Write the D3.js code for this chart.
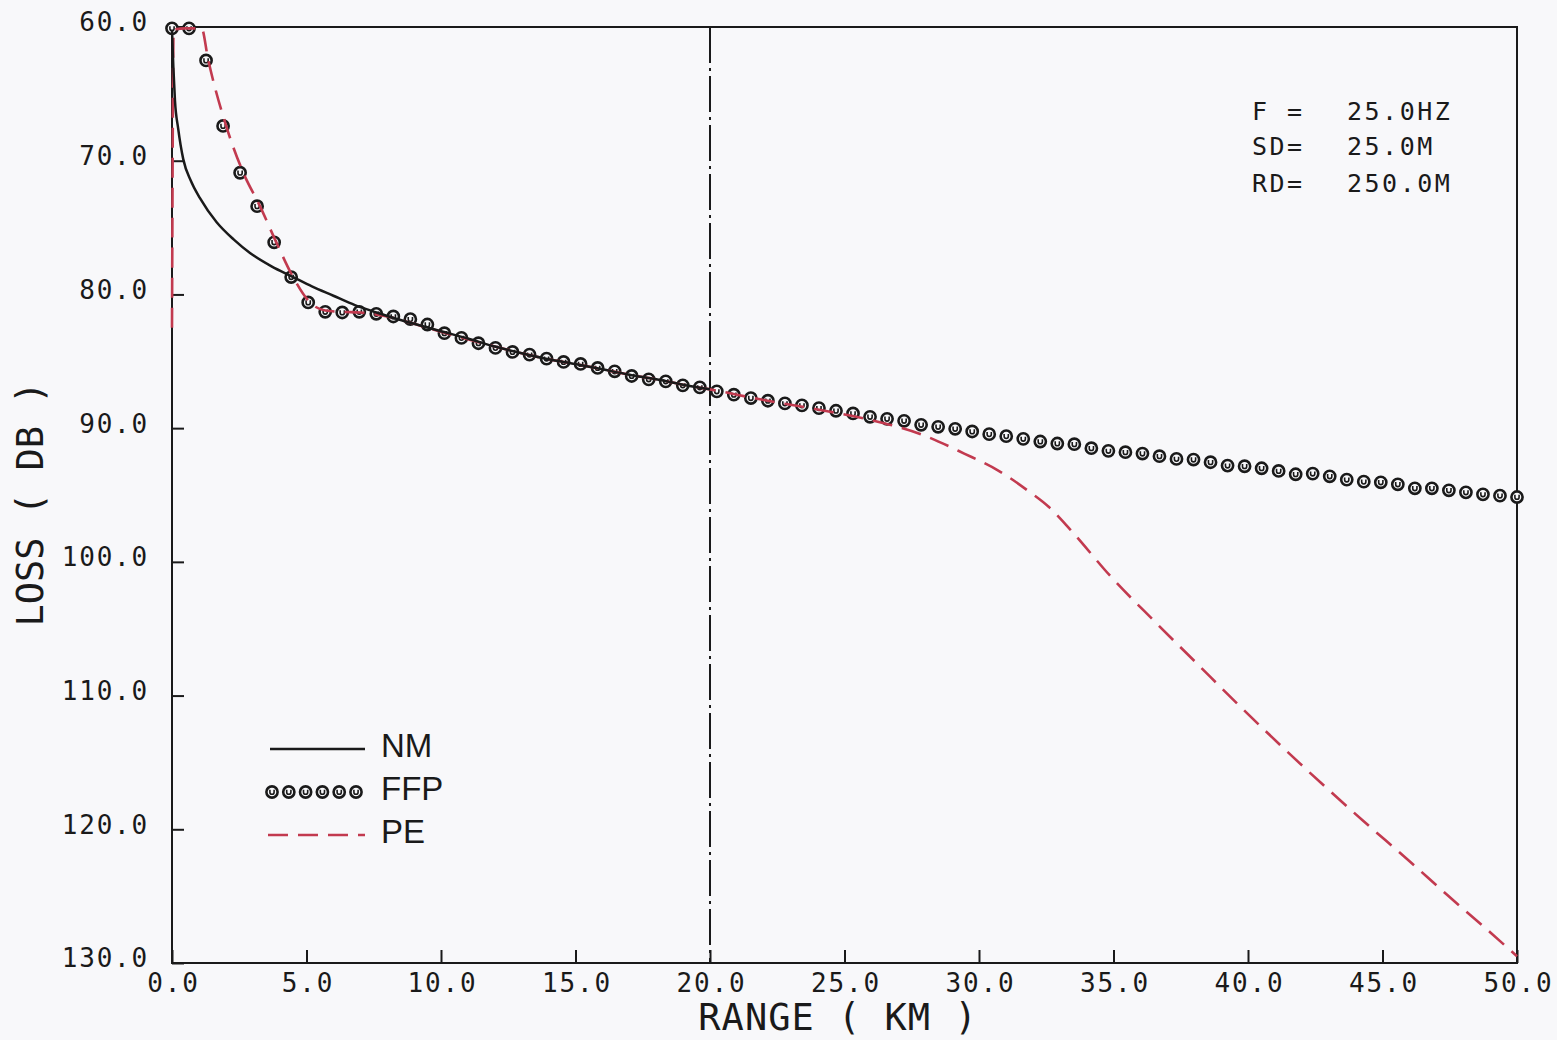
<!DOCTYPE html>
<html>
<head>
<meta charset="utf-8">
<script src="https://cdn.jsdelivr.net/npm/d3@7"></script>
<style>
  html, body { margin: 0; padding: 0; background: #f8f8fa; }
  svg { display: block; }
</style>
</head>
<body>
<svg id="chart" width="1557" height="1040"></svg>
<script>
// ---- data ----
const xTicks = [0, 5, 10, 15, 20, 25, 30, 35, 40, 45, 50];
const yTicks = [60, 70, 80, 90, 100, 110, 120, 130];

// NM (normal modes), 0..20 km
const nmRange = [0, 0.05, 0.11, 0.23, 0.42, 0.7, 1.04, 1.66, 2.3, 2.9, 3.7, 4.5, 5.2, 6.0, 6.8, 7.6, 8.3, 9.1, 10, 11, 12, 13, 14, 15, 16, 17, 18, 19, 20];
const nmLoss  = [60.2, 63.0, 65.5, 67.6, 69.9, 71.5, 72.8, 74.6, 75.9, 76.9, 77.9, 78.7, 79.4, 80.1, 80.8, 81.35, 81.8, 82.25, 82.75, 83.3, 83.9, 84.4, 84.85, 85.2, 85.6, 86.0, 86.35, 86.75, 87.1];

// FFP, 80 samples from 0 to 50 km (step 50/79 km)
const ffpLoss = [60.1, 60.1, 62.5, 67.4, 70.9, 73.4, 76.1, 78.7, 80.6, 81.3,
  81.35, 81.3, 81.45, 81.65, 81.85, 82.25, 82.9, 83.25, 83.65, 84.0,
  84.3, 84.5, 84.8, 85.05, 85.2, 85.5, 85.75, 86.1, 86.35, 86.5,
  86.8, 86.95, 87.25, 87.5, 87.75, 87.95, 88.15, 88.3, 88.5, 88.7,
  88.9, 89.15, 89.3, 89.45, 89.75, 89.9, 90.05, 90.25, 90.45, 90.6,
  90.8, 91.0, 91.15, 91.2, 91.5, 91.7, 91.8, 91.9, 92.1, 92.3,
  92.35, 92.55, 92.8, 92.85, 93.0, 93.2, 93.45, 93.4, 93.6, 93.85,
  94.0, 94.05, 94.2, 94.5, 94.5, 94.65, 94.8, 94.95, 95.05, 95.15];
const ffpRange = ffpLoss.map((_, i) => i * 50 / 79);

// PE
const peRange = [0, 0.06, 0.5, 1.1, 1.34, 2.03, 2.65, 3.27, 3.9, 4.5, 5.13, 5.7, 6.3, 7.0, 8.0, 9.0, 10.0, 11.0, 12.0, 13.0, 14.0, 15.0, 16.0, 17.0, 18.0, 19.0, 20.0, 22.0, 24.0, 26.0, 27.9, 29.45, 30.7, 31.8, 32.6, 33.4, 34.9, 36.5, 38.1, 39.6, 41.2, 42.75, 44.3, 45.9, 47.4, 49.0, 50.0];
const peLoss  = [82.5, 60.2, 60.1, 60.1, 62.4, 67.5, 70.9, 73.4, 76.2, 78.7, 80.6, 81.2, 81.3, 81.35, 81.65, 82.2, 82.8, 83.35, 83.9, 84.4, 84.85, 85.2, 85.6, 86.0, 86.35, 86.75, 87.1, 87.9, 88.6, 89.4, 90.5, 91.9, 93.15, 94.65, 95.9, 97.6, 101.1, 104.4, 107.6, 110.6, 113.7, 116.6, 119.4, 122.2, 124.9, 127.7, 129.5];

const markerRange = 20; // vertical dash-dot line position (km)
const infoLabels = ["F =", "SD=", "RD="];
const infoValues = ["25.0HZ", "25.0M", "250.0M"];
const legendNames = ["NM", "FFP", "PE"];

// ---- layout ----
const L = 172, R = 1517, T = 27, B = 963;
const PE_COLOR = "#c23a4f";
const INK = "#1a1a1a";
const MONO = "'DejaVu Sans Mono', monospace";

const svg = d3.select("#chart");
const x = d3.scaleLinear().domain([0, 50]).range([L, R]);
const y = d3.scaleLinear().domain([60, 130]).range([T, B]);

svg.append("rect").attr("width", 1557).attr("height", 1040).attr("fill", "#f8f8fa");

// axes
const yAxis = d3.axisLeft(y).tickValues(yTicks).tickFormat(d3.format(".1f"))
  .tickSizeInner(-12).tickSizeOuter(0).tickPadding(23);
const gy = svg.append("g").attr("transform", `translate(${L},0)`).call(yAxis);
gy.select(".domain").remove();
gy.selectAll("line").attr("stroke", INK).attr("stroke-width", 2);
gy.selectAll("text").attr("font-family", MONO).attr("font-size", 26)
  .attr("letter-spacing", "1.8px").attr("fill", INK).attr("dy", "0.15em");

const xAxis = d3.axisBottom(x).tickValues(xTicks).tickFormat(d3.format(".1f"))
  .tickSizeInner(-13).tickSizeOuter(0).tickPadding(11);
const gx = svg.append("g").attr("transform", `translate(0,${B})`).call(xAxis);
gx.select(".domain").remove();
gx.selectAll("line").attr("stroke", INK).attr("stroke-width", 2);
gx.selectAll("text").attr("font-family", MONO).attr("font-size", 26)
  .attr("letter-spacing", "1.8px").attr("fill", INK).attr("dx", "1px");

// frame
svg.append("rect").attr("x", L).attr("y", T).attr("width", R - L).attr("height", B - T)
  .attr("fill", "none").attr("stroke", INK).attr("stroke-width", 2);

// vertical dash-dot line
svg.append("line").attr("x1", x(markerRange)).attr("x2", x(markerRange))
  .attr("y1", T).attr("y2", B).attr("stroke", INK).attr("stroke-width", 2)
  .attr("stroke-dasharray", "36,5,3,5");

// axis titles
svg.append("text").attr("x", 838).attr("y", 1030).attr("text-anchor", "middle")
  .attr("font-family", MONO).attr("font-size", 37).attr("letter-spacing", "1px")
  .attr("fill", INK).text("RANGE ( KM )");
svg.append("text").attr("transform", "translate(43,504) rotate(-90)").attr("text-anchor", "middle")
  .attr("font-family", MONO).attr("font-size", 37).attr("letter-spacing", "0px")
  .attr("fill", INK).text("LOSS ( DB )");

// FFP markers
function drawMarker(g) {
  g.append("circle").attr("r", 5.6).attr("fill", "#f8f8fa").attr("stroke", INK).attr("stroke-width", 2.6);
  g.append("path").attr("d", "M-2.1,-2.2 V0.2 A2.1,2.1 0 0 0 2.1,0.2 V-2.2").attr("fill", "none")
    .attr("stroke", INK).attr("stroke-width", 1.6);
}
const ffpData = ffpRange.map((r, i) => [r, ffpLoss[i]]);
svg.append("g").selectAll("g").data(ffpData).join("g")
  .attr("transform", d => `translate(${x(d[0])},${y(d[1])})`)
  .each(function () { drawMarker(d3.select(this)); });

// lines
const line = d3.line().x(d => x(d[0])).y(d => y(d[1])).curve(d3.curveMonotoneX);
const peData = peRange.map((r, i) => [r, peLoss[i]]);
const nmData = nmRange.map((r, i) => [r, nmLoss[i]]);
svg.append("path").datum(peData).attr("d", line).attr("fill", "none")
  .attr("stroke", PE_COLOR).attr("stroke-width", 2.6).attr("stroke-dasharray", "20,10");
svg.append("path").datum(nmData).attr("d", line).attr("fill", "none")
  .attr("stroke", INK).attr("stroke-width", 2.5);

// info text
infoLabels.forEach((t, i) => {
  const by = [120, 155, 192][i];
  svg.append("text").attr("x", 1252).attr("y", by).attr("font-family", MONO).attr("font-size", 25)
    .attr("letter-spacing", "2.5px").attr("fill", INK).text(t);
  svg.append("text").attr("x", 1347).attr("y", by).attr("font-family", MONO).attr("font-size", 25)
    .attr("letter-spacing", "2.5px").attr("fill", INK).text(infoValues[i]);
});

// legend
const lg = svg.append("g");
const legY = [749, 792, 835];
lg.append("line").attr("x1", 270).attr("x2", 365).attr("y1", legY[0]).attr("y2", legY[0])
  .attr("stroke", INK).attr("stroke-width", 2.6);
d3.range(6).forEach(k => {
  const g = lg.append("g").attr("transform", `translate(${272 + k * 16.8},${legY[1]})`);
  drawMarker(g);
});
lg.append("line").attr("x1", 268).attr("x2", 365).attr("y1", legY[2]).attr("y2", legY[2])
  .attr("stroke", PE_COLOR).attr("stroke-width", 2.6).attr("stroke-dasharray", "20,10");
legendNames.forEach((n, i) => {
  lg.append("text").attr("x", 381).attr("y", legY[i] + 8)
    .attr("font-family", "'Liberation Sans', Arial, sans-serif").attr("font-size", 33)
    .attr("fill", INK).text(n);
});
</script>
</body>
</html>
